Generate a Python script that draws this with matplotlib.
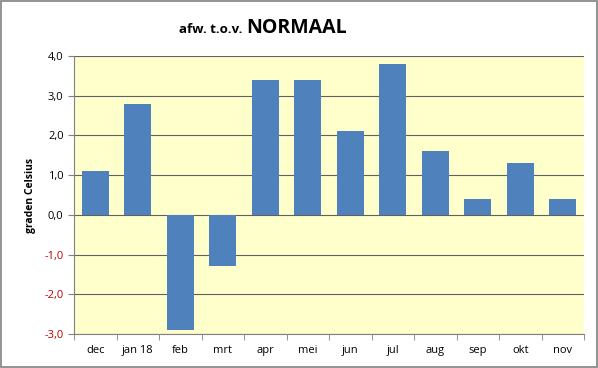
import matplotlib.pyplot as plt
import numpy as np

# data
maanden = ['dec', 'jan 18', 'feb', 'mrt', 'apr', 'mei', 'jun', 'jul', 'aug', 'sep', 'okt', 'nov']
afwijking = [1.1, 2.8, -2.9, -1.3, 3.4, 3.4, 2.1, 3.8, 1.6, 0.4, 1.3, 0.4]
yticks = [-3, -2, -1, 0, 1, 2, 3, 4]

plt.rcParams['font.family'] = ['Open Sans', 'DejaVu Sans']

fig = plt.figure(figsize=(5.98, 3.68), dpi=100)
ax = fig.add_axes([74/598, 1 - 334/368, 510/598, 278/368])

x = np.arange(len(maanden))
ax.bar(x, afwijking, width=0.64, color='#4F81BD', zorder=3)

ax.set_facecolor('#FFFFCC')
ax.set_xlim(-0.5, len(maanden) - 0.5)
ax.set_ylim(-3, 4)
ax.set_yticks(yticks)
ax.set_yticklabels([f'{v:.1f}'.replace('.', ',') for v in yticks], fontsize=8)
for lab, v in zip(ax.get_yticklabels(), yticks):
    lab.set_color('#C00000' if v < 0 else 'black')
ax.grid(axis='y', color='#606060', linewidth=0.8, zorder=1)

# category labels centered, tick marks between categories
ax.set_xticks(x)
ax.set_xticklabels(maanden, fontsize=8)
ax.tick_params(axis='x', length=0, pad=8)
ax.set_xticks(np.arange(-0.5, len(maanden)), minor=True)
ax.tick_params(axis='x', which='minor', length=4, color='#808080')
ax.tick_params(axis='y', length=4, color='#808080')

for s in ['top', 'right']:
    ax.spines[s].set_visible(False)
for s in ['left', 'bottom']:
    ax.spines[s].set_color('#808080')

ax.set_ylabel('graden Celsius', fontsize=7.5, fontweight='bold', labelpad=6)

fig.text(0.406, 0.91, 'afw. t.o.v.', fontsize=9.5, fontweight='bold', ha='right', va='baseline')
fig.text(0.412, 0.91, 'NORMAAL', fontsize=14, fontweight='bold', ha='left', va='baseline')

# outer border
fig.patches.append(plt.Rectangle((0.002, 0.003), 0.996, 0.994, transform=fig.transFigure,
                                 fill=False, edgecolor='#808080', linewidth=1.2))

plt.savefig('out.png', dpi=100)
